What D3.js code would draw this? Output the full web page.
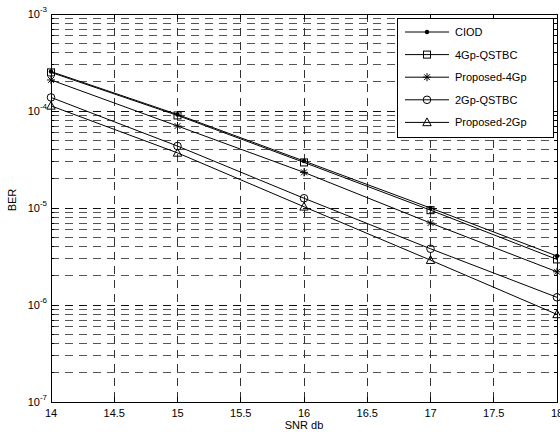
<!DOCTYPE html>
<html><head><meta charset="utf-8">
<script src="https://cdn.jsdelivr.net/npm/d3@7"></script>
<style>body{margin:0;background:#fff}svg{display:block;font-family:"Liberation Sans",Arial,sans-serif}</style>
</head><body>
<svg id="c" width="560" height="434"></svg>
<script>
const snr = [14, 15, 16, 17, 18];
const seriesNames = ["CIOD", "4Gp-QSTBC", "Proposed-4Gp", "2Gp-QSTBC", "Proposed-2Gp"];
const ciod = [2.55e-4, 9.2e-5, 3.05e-5, 1.0e-5, 3.2e-6];
const qstbc4 = [2.5e-4, 9.0e-5, 2.95e-5, 9.5e-6, 2.95e-6];
const prop4 = [2.09e-4, 7.0e-5, 2.33e-5, 7.0e-6, 2.2e-6];
const qstbc2 = [1.38e-4, 4.35e-5, 1.26e-5, 3.8e-6, 1.2e-6];
const prop2 = [1.13e-4, 3.7e-5, 1.03e-5, 2.9e-6, 8.0e-7];
const xTicks = [14, 14.5, 15, 15.5, 16, 16.5, 17, 17.5, 18];
const yDecades = [-7, -6, -5, -4, -3];
const markers = ["dot", "square", "star", "circle", "triangle"];
const seriesValues = [ciod, qstbc4, prop4, qstbc2, prop2];

const svg = d3.select("#c");
const L = 51, R = 557, T = 14, B = 402;
const x = d3.scaleLinear().domain([14, 18]).range([L, R]);
const y = d3.scaleLog().domain([1e-7, 1e-3]).range([B, T]);

const yMinor = [];
for (let d = -7; d < -3; d++) for (let m = 2; m <= 9; m++) yMinor.push(m * Math.pow(10, d));

const g = svg.append("g");
g.selectAll(".hg").data(yMinor).enter().append("line")
  .attr("x1", L).attr("x2", R).attr("y1", d => y(d)).attr("y2", d => y(d))
  .attr("stroke", "#555").attr("stroke-width", 1).attr("stroke-dasharray", "8,6").attr("shape-rendering", "crispEdges");
g.selectAll(".hm").data(yDecades.slice(1, -1)).enter().append("line")
  .attr("x1", L).attr("x2", R).attr("y1", d => y(Math.pow(10, d))).attr("y2", d => y(Math.pow(10, d)))
  .attr("stroke", "#111").attr("stroke-width", 1).attr("stroke-dasharray", "8,6").attr("shape-rendering", "crispEdges");
g.selectAll(".vg").data(xTicks.slice(1, -1)).enter().append("line")
  .attr("x1", d => x(d)).attr("x2", d => x(d)).attr("y1", T).attr("y2", B)
  .attr("stroke", "#333").attr("stroke-width", 1).attr("stroke-dasharray", "8,6").attr("shape-rendering", "crispEdges");

g.append("rect").attr("x", L).attr("y", T).attr("width", R - L).attr("height", B - T)
  .attr("fill", "none").attr("stroke", "#000").attr("stroke-width", 1).attr("shape-rendering", "crispEdges");

const tk = g.append("g").attr("stroke", "#000").attr("shape-rendering", "crispEdges");
xTicks.forEach(v => {
  tk.append("line").attr("x1", x(v)).attr("x2", x(v)).attr("y1", B).attr("y2", B - 5);
  tk.append("line").attr("x1", x(v)).attr("x2", x(v)).attr("y1", T).attr("y2", T + 5);
});
yMinor.forEach(v => {
  tk.append("line").attr("x1", L).attr("x2", L + 3).attr("y1", y(v)).attr("y2", y(v));
  tk.append("line").attr("x1", R).attr("x2", R - 3).attr("y1", y(v)).attr("y2", y(v));
});
yDecades.forEach(dd => {
  const v = Math.pow(10, dd);
  tk.append("line").attr("x1", L).attr("x2", L + 5).attr("y1", y(v)).attr("y2", y(v));
  tk.append("line").attr("x1", R).attr("x2", R - 5).attr("y1", y(v)).attr("y2", y(v));
});

g.selectAll(".xl").data(xTicks).enter().append("text")
  .attr("x", d => x(d)).attr("y", 417).attr("text-anchor", "middle")
  .attr("font-size", 11).text(d => d);
yDecades.forEach(dd => {
  const t = g.append("text").attr("x", 47).attr("y", y(Math.pow(10, dd)) + 4).attr("text-anchor", "end").attr("font-size", 11);
  t.append("tspan").text("10");
  t.append("tspan").attr("dy", -6).attr("font-size", 8).text(String(dd));
});

g.append("text").attr("x", (L + R) / 2).attr("y", 429).attr("text-anchor", "middle").attr("font-size", 11).text("SNR db");
g.append("text").attr("transform", "translate(16,200) rotate(-90)").attr("text-anchor", "middle").attr("font-size", 11).text("BER");

function drawMarker(sel, type, cx, cy) {
  const m = sel.append("g").attr("transform", `translate(${cx},${cy})`);
  if (type === "dot") m.append("circle").attr("r", 2.2).attr("fill", "#000");
  else if (type === "square") m.append("rect").attr("x", -3.5).attr("y", -3.5).attr("width", 7).attr("height", 7).attr("fill", "none").attr("stroke", "#000");
  else if (type === "circle") m.append("circle").attr("r", 3.8).attr("fill", "none").attr("stroke", "#000");
  else if (type === "triangle") m.append("path").attr("d", "M0,-4.5L4.2,3.3L-4.2,3.3Z").attr("fill", "none").attr("stroke", "#000");
  else if (type === "star") {
    m.append("path").attr("d", "M0,-4V4M-4,0H4M-2.9,-2.9L2.9,2.9M-2.9,2.9L2.9,-2.9").attr("stroke", "#000").attr("fill", "none");
  }
}

const line = d3.line().x((d, i) => x(snr[i])).y(d => y(d));
const data = g.append("g");
seriesValues.forEach(vals => {
  data.append("path").attr("d", line(vals)).attr("fill", "none").attr("stroke", "#000").attr("stroke-width", 1);
});
seriesValues.forEach((vals, si) => {
  vals.forEach((v, i) => drawMarker(data, markers[si], x(snr[i]), y(v)));
});

const lg = g.append("g");
lg.append("rect").attr("x", 397).attr("y", 18).attr("width", 156).attr("height", 119)
  .attr("fill", "#fff").attr("stroke", "#000").attr("shape-rendering", "crispEdges");
seriesNames.forEach((n, i) => {
  const yy = 32 + i * 22.6;
  lg.append("line").attr("x1", 405).attr("x2", 449).attr("y1", yy).attr("y2", yy).attr("stroke", "#000");
  drawMarker(lg, markers[i], 427, yy);
  lg.append("text").attr("x", 455).attr("y", yy + 4).attr("font-size", 11).text(n);
});
</script>
</body></html>
